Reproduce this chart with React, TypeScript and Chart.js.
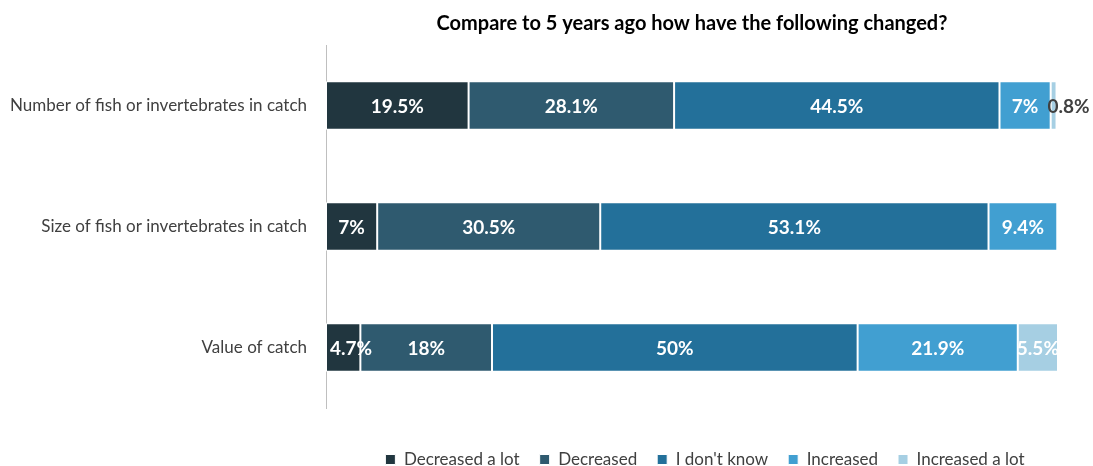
import React, { useEffect, useRef } from "react";
import { Chart, registerables } from "chart.js";

Chart.register(...registerables);

const categories = [
  "Number of fish or invertebrates in catch",
  "Size of fish or invertebrates in catch",
  "Value of catch",
];
const seriesNames = ["Decreased a lot", "Decreased", "I don't know", "Increased", "Increased a lot"];
const decreasedALot = [19.5, 7, 4.7];
const decreased = [28.1, 30.5, 18];
const dontKnow = [44.5, 53.1, 50];
const increased = [7, 9.4, 21.9];
const increasedALot = [0.8, 0, 5.5];
const colors = ["#21363f", "#2f5a6f", "#23709a", "#419fd1", "#a6cfe3"];

const FONT = "Lato, 'Open Sans', sans-serif";

const labelPlugin = {
  id: "segLabels",
  afterDatasetsDraw(chart: any) {
    const ctx = chart.ctx;
    ctx.save();
    ctx.font = `bold 19px ${FONT}`;
    ctx.textBaseline = "middle";
    ctx.textAlign = "center";
    chart.data.datasets.forEach((ds: any, di: number) => {
      const meta = chart.getDatasetMeta(di);
      meta.data.forEach((bar: any, i: number) => {
        const v = ds.data[i];
        if (!v) return;
        const txt = `${v}%`;
        const w = ctx.measureText(txt).width;
        const left = Math.min(bar.x, bar.base);
        const right = Math.max(bar.x, bar.base);
        let cx = (left + right) / 2;
        let color = "#ffffff";
        if (right - left < 10) {
          cx = right + 12;
          color = "#404040";
        }
        if (cx - w / 2 < chart.chartArea.left + 4) cx = chart.chartArea.left + 4 + w / 2;
        ctx.fillStyle = color;
        ctx.fillText(txt, cx, bar.y + 1);
      });
    });
    ctx.restore();
  },
};

const shiftLegendPlugin = {
  id: "shiftLegend",
  afterLayout(chart: any) {
    const l = chart.legend;
    if (l) {
      l.left += 13;
      l.right += 13;
    }
  },
};

export default function App() {
  const ref = useRef<HTMLCanvasElement | null>(null);
  useEffect(() => {
    if (!ref.current) return;
    const all = [decreasedALot, decreased, dontKnow, increased, increasedALot];
    const chart = new Chart(ref.current, {
      type: "bar",
      data: {
        labels: categories,
        datasets: all.map((d, i) => ({
          label: seriesNames[i],
          data: d,
          backgroundColor: colors[i],
          borderColor: "#ffffff",
          borderWidth: 1,
          borderSkipped: false,
          barPercentage: 0.4,
          categoryPercentage: 1,
        })),
      },
      options: {
        indexAxis: "y",
        animation: false,
        responsive: false,
        maintainAspectRatio: false,
        layout: { padding: { left: 0, right: 35, top: 0, bottom: -12 } },
        scales: {
          x: {
            stacked: true,
            min: 0,
            max: 100.1,
            display: true,
            grid: { display: false },
            border: { display: false },
            ticks: { display: false },
            afterFit(scale: any) {
              scale.height = 23;
            },
          },
          y: {
            stacked: true,
            grid: { display: false },
            border: { display: true, color: "#bfbfbf", width: 1 },
            ticks: {
              color: "#404040",
              font: { family: FONT, size: 17 },
              padding: 11,
            },
            afterFit(scale: any) {
              scale.width = 326;
            },
          },
        },
        plugins: {
          title: {
            display: true,
            fullSize: false,
            text: "Compare to 5 years ago how have the following changed?",
            color: "#000000",
            font: { family: FONT, size: 20, weight: "bold" },
            padding: { top: 12, bottom: 9 },
          },
          legend: {
            position: "bottom",
            fullSize: false,
            labels: {
              boxWidth: 10,
              boxHeight: 10,
              color: "#404040",
              font: { family: FONT, size: 17 },
              padding: 20,
            },
          },
          tooltip: { enabled: false },
        },
      },
      plugins: [labelPlugin, shiftLegendPlugin],
    });
    return () => chart.destroy();
  }, []);
  return (
    <div style={{ position: "fixed", left: 0, top: 0, width: 1093, height: 466, background: "#fff" }}>
      <canvas ref={ref} width={1093} height={466} style={{ width: 1093, height: 466 }} />
    </div>
  );
}
